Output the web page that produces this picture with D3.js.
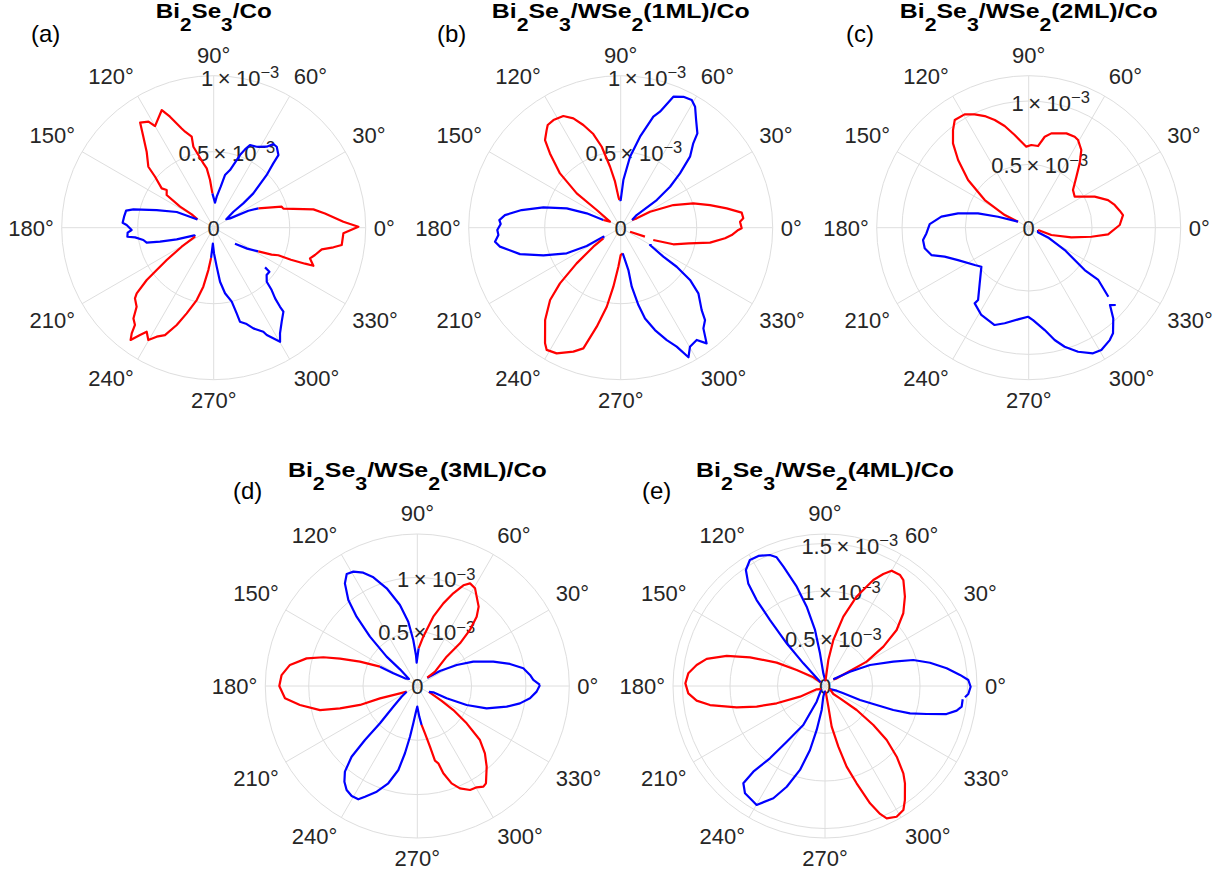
<!DOCTYPE html>
<html><head><meta charset="utf-8">
<script src="https://cdn.jsdelivr.net/npm/d3@7"></script>
<style>
body{margin:0;background:#fff}
svg{display:block}
text{font-family:"Liberation Sans",Arial,Helvetica,sans-serif}
</style>
</head><body>
<svg id="chart" width="1228" height="875"></svg>
<script>
// ---------- DATA (angles in degrees, values in units of 1e-3; sign: + red, - blue; null = gap) ----------
const thetaTicks = [0,30,60,90,120,150,180,210,240,270,300,330];
const rExponent = -3;

const titleA = "Bi_2Se_3/Co";
const titleB = "Bi_2Se_3/WSe_2(1ML)/Co";
const titleC = "Bi_2Se_3/WSe_2(2ML)/Co";
const titleD = "Bi_2Se_3/WSe_2(3ML)/Co";
const titleE = "Bi_2Se_3/WSe_2(4ML)/Co";
const panelLetters = ["(a)","(b)","(c)","(d)","(e)"];

const rTicksA = [0,0.5,1];   const rMaxA = 1.0;
const rTicksB = [0,0.5,1];   const rMaxB = 1.0;
const rTicksC = [0,0.5,1];   const rMaxC = 1.2;
const rTicksD = [0,0.5,1];   const rMaxD = 1.4;
const rTicksE = [0,0.5,1,1.5]; const rMaxE = 1.6;

const thetaA = [323.1,328,332.1,335,336.9,337.5,338.5,339.1,342.3,344.9,348.7,350.7,352.3,357.5,0.4,2.6,7.3,10.4,15.3,17.2,
 23.4,26.1,29.7,34,39,39.4,40.9,44.8,47.2,48.3,52.1,54.5,56.8,62,66.3,68.2,70.1,74.2,77.9,80.3,84.5,87,
 92.2,94.4,96.7,99.1,101.9,104.1,103.6,106.6,107.9,111.5,113.8,120,121.6,125,127.7,131.4,137,139,142.9,141.3,145.2,148,148.8,
 153,157,162.8,167.1,169,173,176.9,178.2,181.6,183.3,186,187,189.9,192.6,194.6,197.5,201.6,
 205.7,210.7,214.5,216.6,218,220.5,221.9,225.7,228.5,231,232.2,233.5,235.5,237.2,239.8,242.4,245.6,249.2,252.5,256.8,260,262.8,
 265,267,270.7,274.4,276.7,279.8,283.7,285,285.6,288.9,291.5,295.5,296.3,300.2,302.1,305.9,309.7,310,311,312.9,314.5,318.2,321.7,322.3];
const valueA = [-0.175,-0.26,0.332,0.42,0.462,0.55,0.646,0.702,0.665,0.69,0.725,0.798,0.85,0.854,0.952,0.854,0.738,0.667,0.475,0.468,
 -0.32,-0.254,-0.124,-0.10,-0.167,-0.252,-0.345,-0.49,-0.577,-0.64,-0.675,-0.676,-0.637,-0.603,-0.594,-0.555,-0.508,-0.394,-0.354,-0.274,-0.205,-0.165,
 0.226,0.315,0.393,0.429,0.489,0.549,0.616,0.659,0.686,0.785,0.846,0.772,0.819,0.844,0.757,0.667,0.588,0.511,0.429,0.396,0.377,0.261,0.169,
 -0.12,-0.264,-0.393,-0.542,-0.587,-0.594,-0.6,-0.573,-0.54,-0.567,-0.571,-0.521,-0.47,-0.452,-0.365,-0.255,-0.137,
 0.136,0.245,0.375,0.467,0.559,0.666,0.696,0.726,0.797,0.823,0.88,0.919,0.856,0.814,0.855,0.809,0.776,0.685,0.591,0.489,0.394,0.281,
 -0.2,-0.105,-0.169,-0.257,-0.358,-0.438,-0.501,-0.584,-0.642,-0.67,-0.712,-0.758,-0.788,-0.868,-0.821,-0.763,-0.718,-0.679,-0.616,-0.56,-0.498,-0.467,-0.467,-0.427];

const thetaB = [339.3,342.5,347,350.5,354.2,356.2,358.9,359.7,2.9,4.4,7.1,10.3,14.2,18.5,23.3,28.6,30.3,
 34,38.4,37.9,37.5,39.7,42.5,45.7,49.3,50.9,55,58.4,60.9,64.4,68.1,71.3,73.6,78,82.5,86.8,90,
 92.8,94.3,97,99.9,103.2,106.3,110,113.4,117.2,122,125.4,127.2,130.8,133.6,138.2,142,143.6,150.6,
 156.1,157.1,160.3,165.3,169.9,173.8,176.4,178.2,181.1,183.4,186.4,188.9,194.7,199.7,205.4,208.3,207.4,
 211.6,214.8,219,222.5,225.7,230.7,236.8,238.8,243,249.1,252.8,256.4,260,262.9,266.6,270,
 274.5,277.6,280.3,280.6,282.9,285,288.5,292.3,295.2,297.6,300.2,304.1,306.6,309.4,312.4,314.5,319.8,323,325.1,325.8,329.4,330.8,
 null,336.7,339.7];
const valueB = [0.229,0.363,0.46,0.596,0.69,0.732,0.774,0.796,0.786,0.809,0.802,0.709,0.606,0.504,0.377,0.22,0.122,
 -0.09,-0.134,-0.189,-0.299,-0.422,-0.529,-0.653,-0.732,-0.8,-0.865,-0.934,-0.961,-0.955,-0.929,-0.806,-0.761,-0.612,-0.471,-0.314,-0.182,
 0.182,0.205,0.305,0.407,0.547,0.642,0.719,0.784,0.826,0.835,0.829,0.806,0.762,0.675,0.536,0.367,0.196,0.081,
 -0.125,-0.243,-0.377,-0.526,-0.662,-0.766,-0.8,-0.79,-0.812,-0.806,-0.832,-0.804,-0.685,-0.54,-0.393,-0.254,-0.128,
 0.134,0.219,0.373,0.542,0.665,0.785,0.909,0.94,0.928,0.873,0.831,0.67,0.528,0.391,0.257,0.18,
 -0.169,-0.215,-0.283,-0.395,-0.522,-0.618,-0.71,-0.799,-0.865,-0.962,-0.906,-0.892,-0.948,-0.857,-0.823,-0.76,-0.669,-0.571,-0.449,-0.339,-0.224,-0.234,
 null,0.067,0.17];

const thetaC = [319.1,323.1,322.9,328.2,333.4,333.4,
 346,342.1,347.2,351.8,355.2,1.7,7.6,10.6,14.8,19.2,25.2,34,40.4,46.9,51.6,55.9,60.6,63.2,68.2,76.5,80,83.5,88.2,91.7,94.9,98.6,
 103.3,107.5,111.5,115.5,119.5,124.5,127.8,131.9,136.2,141.8,147.8,152.2,
 150.6,160.3,164.2,168.5,172.8,177.9,183.2,186.7,191.2,195.7,199,204.6,214.7,219.5,228.6,235,234.5,241.5,250.7,255.9,263.4,269.6,
 272.7,278.9,283,286.8,291.7,297.1,300.7,305.8,308.6,313,316.4,318.4];
const valueC = [-0.832,-0.687,-0.554,-0.335,-0.171,-0.082,
 0.076,0.188,0.345,0.5,0.629,0.719,0.751,0.731,0.702,0.663,0.576,0.438,0.459,0.551,0.648,0.741,0.794,0.805,0.802,0.766,0.729,0.649,0.653,0.64,0.681,0.74,
 0.825,0.891,0.947,0.991,1.028,1.031,0.975,0.895,0.772,0.609,0.41,0.214,
 -0.097,-0.257,-0.416,-0.569,-0.695,-0.782,-0.809,-0.84,-0.837,-0.798,-0.702,-0.614,-0.518,-0.484,-0.585,-0.697,-0.734,-0.784,-0.814,-0.778,-0.729,-0.703,
 -0.73,-0.818,-0.91,-0.982,-1.054,-1.114,-1.123,-1.094,-1.067,-0.979,-0.886,-0.919];

const thetaD = [0.5,3,5.6,9.5,13.4,17.8,23.5,28.1,33.5,38.2,
 40,39,45,45,46.8,49.4,52.3,56.4,59.4,62.8,65.4,68.8,72.5,77,83.1,
 88,91.6,92.5,95,98,102.1,107.4,112,115.5,119.2,122.2,125.2,128.7,131.2,133.8,136.3,136.1,140,148.1,152.2,
 152.6,157,160.5,163,166,170.6,175.4,180,185.3,189.2,193.9,196.1,198.3,198.3,202.9,
 208,214.2,220.7,225,225.9,227.1,229.8,232.7,235.8,239.2,242.5,244.7,249,253.4,257.3,259.6,261.8,263.9,267,270,273.7,
 276.3,279.2,281.8,283.3,285.2,286.6,289.4,292.6,296.9,300.4,303.3,305.2,310.7,315.1,319.2,322.9,326.3,328.4,
 333,338.4,337.2,338.9,342.1,347,350.4,353.8,357.3,0.5];
const valueD = [-1.13,-1.07,-1.043,-0.99,-0.877,-0.735,-0.562,-0.411,-0.25,-0.129,
 0.12,0.21,0.382,0.556,0.708,0.84,0.924,0.988,1.045,1.063,1.02,0.916,0.798,0.655,0.458,
 -0.347,-0.215,-0.286,-0.425,-0.598,-0.763,-0.943,-1.08,-1.156,-1.207,-1.22,-1.157,-1.016,-0.849,-0.63,-0.391,-0.221,-0.1,-0.134,-0.25,
 0.387,0.574,0.755,0.905,1.051,1.189,1.254,1.271,1.224,1.095,0.923,0.741,0.556,0.362,0.173,
 -0.111,-0.175,-0.292,-0.486,-0.693,-0.889,-1.033,-1.108,-1.158,-1.18,-1.177,-1.128,-1.043,-0.935,-0.793,-0.63,-0.472,-0.346,-0.237,-0.19,-0.283,
 0.361,0.442,0.571,0.707,0.738,0.839,0.951,1.021,1.074,1.082,1.109,1.097,0.98,0.879,0.762,0.57,0.399,0.263,
 -0.12,-0.158,-0.293,-0.487,-0.671,-0.845,-0.959,-1.044,-1.1,-1.13];

const thetaE = [354.5,351.4,349.4,347,344.6,342.2,340.6,339.8,338.2,338.2,338.2,
 327,316.2,320.6,322.8,321.1,318.8,315.4,311.9,309.4,305,302.3,298.7,295,293.3,291,288,285,282.4,279.3,279.2,277.8,
 268,261,262.1,259.3,256.8,253.4,249.2,245.3,240.1,237.3,233.3,230,230.1,232.7,235.5,240.9,242,
 220,201.8,203.1,199.7,196.8,193.6,189.4,186.5,183.1,178.9,174.7,170.7,167.1,163,159.1,154.2,150.5,143.4,
 140,133.7,131.9,129.8,128.5,126.8,124.3,120.8,117.1,112.8,110.6,109.2,105.9,103,100.1,98.7,97.5,
 85,82.7,79.7,75.2,70.5,65.5,62.5,60,55.9,53.5,48.2,42.9,38,34,30.3,31,33.3,
 38.7,29.8,25,19.6,16.4,12.5,8.3,4.7,2.4,359.7,356.8,355.4];
const valueE = [-1.456,-1.455,-1.41,-1.312,-1.11,-0.94,-0.762,-0.579,-0.397,-0.208,-0.132,
 0.06,0.122,0.204,0.418,0.654,0.863,1.06,1.235,1.326,1.466,1.544,1.569,1.537,1.466,1.323,1.077,0.879,0.654,0.434,0.22,0.078,
 -0.05,-0.114,-0.255,-0.471,-0.692,-0.922,-1.134,-1.301,-1.444,-1.427,-1.409,-1.337,-1.176,-0.957,-0.711,-0.47,-0.187,
 0.05,0.094,0.286,0.54,0.751,0.957,1.227,1.36,1.441,1.47,1.445,1.369,1.278,1.082,0.845,0.565,0.343,0.153,
 -0.06,-0.33,-0.604,-0.904,-1.156,-1.349,-1.478,-1.544,-1.538,-1.496,-1.447,-1.33,-1.087,-0.857,-0.599,-0.348,-0.134,
 0.05,0.276,0.492,0.755,1.0,1.226,1.329,1.402,1.41,1.387,1.262,1.125,0.957,0.741,0.508,0.3,0.147,
 -0.112,-0.303,-0.523,-0.763,-0.969,-1.132,-1.294,-1.426,-1.51,-1.533,-1.511,-1.478];

// ---------- LAYOUT ----------
const panels = [
  {title:titleA, letter:panelLetters[0], theta:thetaA, value:valueA, ticks:rTicksA, rmax:rMaxA, cx:213.7, cy:227.7, lx:31,  ly:42,    tw:116},
  {title:titleB, letter:panelLetters[1], theta:thetaB, value:valueB, ticks:rTicksB, rmax:rMaxB, cx:620.7, cy:227.7, lx:437, ly:42,    tw:258},
  {title:titleC, letter:panelLetters[2], theta:thetaC, value:valueC, ticks:rTicksC, rmax:rMaxC, cx:1028.7,cy:227.7, lx:846, ly:42,    tw:258},
  {title:titleD, letter:panelLetters[3], theta:thetaD, value:valueD, ticks:rTicksD, rmax:rMaxD, cx:417.3, cy:686,   lx:233, ly:498.5, tw:259},
  {title:titleE, letter:panelLetters[4], theta:thetaE, value:valueE, ticks:rTicksE, rmax:rMaxE, cx:825,   cy:686,   lx:642, ly:498.5, tw:258}
];
const R = 152, LABEL_R = 160;
const RED = "#ff0000", BLUE = "#0000ff";
const GRID = "#dedede", TXT = "#262626";
const tickFS = 22, titleFS = 21, subFS = 18, subShift = 13, supFS = 16.5;

const svg = d3.select("#chart");
svg.append("rect").attr("width",1228).attr("height",875).attr("fill","#fff");

function buildRuns(th, v){
  const out=[]; let cur=null;
  for(let i=0;i<th.length;i++){
    if(v[i]===null || th[i]===null){ if(cur&&cur.pts.length>1) out.push(cur); cur=null; continue; }
    const p={t:th[i], r:Math.abs(v[i])}; const s=v[i]>=0?1:-1;
    if(!cur){ cur={s, pts:[p]}; continue; }
    if(s===cur.s){ cur.pts.push(p); }
    else { cur.pts.push(p); out.push(cur); cur={s, pts:[p]}; }
  }
  if(cur&&cur.pts.length>1) out.push(cur);
  return out;
}

panels.forEach(P=>{
  const g = svg.append("g").attr("transform",`translate(${P.cx},${P.cy})`);
  const r = d3.scaleLinear().domain([0,P.rmax]).range([0,R]);
  const rad = d=>d*Math.PI/180;

  // grid rings
  const rings = P.ticks.filter(t=>t>0 && t<P.rmax).concat([P.rmax]);
  g.selectAll("circle.ring").data(rings).join("circle")
    .attr("r",d=>r(d)).attr("fill","none").attr("stroke",GRID).attr("stroke-width",1);
  // spokes
  g.selectAll("line.spoke").data(thetaTicks).join("line")
    .attr("x1",0).attr("y1",0)
    .attr("x2",d=>R*Math.cos(rad(d))).attr("y2",d=>-R*Math.sin(rad(d)))
    .attr("stroke",GRID).attr("stroke-width",1);

  // theta labels (anchored outside the circle, aligned away from it)
  thetaTicks.forEach(t=>{
    const c=Math.cos(rad(t)), s=Math.sin(rad(t));
    const ax = LABEL_R*c, ay = -LABEL_R*s;
    const anchor = c>0.01 ? "start" : (c<-0.01 ? "end" : "middle");
    let y;
    if(s>0.01) y = ay - 0.212*tickFS;          // bottom of text box at anchor
    else if(s<-0.01) y = ay + 0.905*tickFS;    // top of text box at anchor
    else y = ay + 0.36*tickFS;                 // vertically centred
    g.append("text").attr("font-size",tickFS).attr("fill",TXT).attr("text-anchor",anchor)
      .attr("x",ax).attr("y",y).text(t+"°");
  });

  // radial tick labels at 80 degrees
  P.ticks.forEach(t=>{
    const a = rad(80);
    const x = r(t)*Math.cos(a), y = -r(t)*Math.sin(a);
    const tx = g.append("text").attr("font-size",tickFS).attr("fill",TXT).attr("text-anchor","middle")
      .attr("x",x).attr("y",y+0.36*tickFS);
    if(t===0){ tx.text("0"); }
    else {
      tx.append("tspan").text(String(t));
      tx.append("tspan").attr("dx",4.5).text("×");
      tx.append("tspan").attr("dx",5.5).text("10");
      tx.append("tspan").attr("font-size",supFS).attr("dy",-7.5).text(String(rExponent).replace("-","\u2212"));
    }
  });

  // curves
  const line = d3.lineRadial().angle(d=>rad(90-d.t)).radius(d=>r(d.r)).curve(d3.curveLinear);
  buildRuns(P.theta,P.value).forEach(run=>{
    g.append("path").attr("d",line(run.pts)).attr("fill","none")
      .attr("stroke",run.s>0?RED:BLUE).attr("stroke-width",2.2)
      .attr("stroke-linejoin","round").attr("stroke-linecap","butt");
  });

  // title (horizontally scaled to the reference width)
  const tg = svg.append("g");
  const tt = tg.append("text").attr("x",0).attr("y",0).attr("text-anchor","middle")
    .attr("font-size",titleFS).attr("font-weight","bold").attr("fill","#000");
  const parts = P.title.split(/(_\w)/).filter(s=>s.length);
  let shifted=false;
  parts.forEach(p=>{
    if(p[0]==="_"){
      tt.append("tspan").attr("font-size",subFS).attr("dy",shifted?0:subShift).text(p.slice(1));
      shifted=true;
    } else {
      tt.append("tspan").attr("dy",shifted?-subShift:0).text(p);
      shifted=false;
    }
  });
  const bw = tt.node().getBBox().width;
  const k = P.tw / bw;
  tg.attr("transform",`translate(${P.cx},${P.cy-209.4}) scale(${k},1)`);

  // panel letter
  svg.append("text").attr("x",P.lx).attr("y",P.ly).attr("font-size",24).attr("fill","#000").text(P.letter);
});
</script>
</body></html>
